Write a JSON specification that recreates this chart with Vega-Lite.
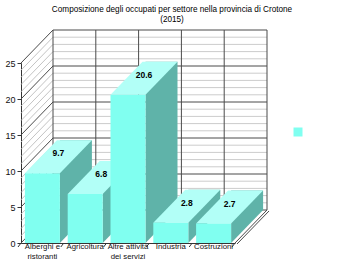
{
  "$schema": "https://vega.github.io/schema/vega-lite/v6.json",
  "autosize": "none",
  "width": 214,
  "height": 180,
  "padding": {"left": 21, "top": 63, "right": 106, "bottom": 26},
  "background": "white",
  "config": {"view": {"stroke": null}, "font": "Liberation Sans"},
  "title": {
    "text": ["Composizione degli occupati per settore nella provincia di Crotone", "(2015)"],
    "fontSize": 8.2,
    "fontWeight": "normal",
    "font": "Liberation Sans",
    "color": "#000000",
    "anchor": "middle",
    "dx": 44,
    "offset": 5,
    "lineHeight": 10
  },
  "datasets": {
    "settori": [
      {"settore": "Alberghi e ristoranti", "valore": 9.7},
      {"settore": "Agricoltura", "valore": 6.8},
      {"settore": "Altre attività dei servizi", "valore": 20.6},
      {"settore": "Industria", "valore": 2.8},
      {"settore": "Costruzioni", "valore": 2.7}
    ],
    "maggiori": [{"v": 0}, {"v": 5}, {"v": 10}, {"v": 15}, {"v": 20}, {"v": 25}],
    "minori": [
      {"v": 1}, {"v": 2}, {"v": 3}, {"v": 4},
      {"v": 6}, {"v": 7}, {"v": 8}, {"v": 9},
      {"v": 11}, {"v": 12}, {"v": 13}, {"v": 14},
      {"v": 16}, {"v": 17}, {"v": 18}, {"v": 19},
      {"v": 21}, {"v": 22}, {"v": 23}, {"v": 24}
    ]
  },
  "layer": [
    {
      "data": {"name": "minori"},
      "mark": {"type": "rule", "color": "#cccccc", "strokeWidth": 1, "yOffset": -33},
      "encoding": {
        "x": {"value": 32}, "x2": {"value": 246},
        "y": {
          "field": "v", "type": "quantitative", "title": null,
          "scale": {"domain": [0, 25], "nice": false},
          "axis": {"values": [0, 5, 10, 15, 20, 25], "tickCount": 6, "labelOverlap": false, "labelBound": false, "labelFlush": false, "grid": false, "tickSize": 4, "tickColor": "#333333", "domainColor": "#333333", "labelFontSize": 9, "labelColor": "#111111", "labelPadding": 2}
        }
      }
    },
    {
      "data": {"name": "minori"},
      "mark": {"type": "rule", "color": "#c4c4c4", "strokeWidth": 1, "y2Offset": -33},
      "encoding": {
        "x": {"value": 0}, "x2": {"value": 32},
        "y": {"field": "v", "type": "quantitative"},
        "y2": {"field": "v"}
      }
    },
    {
      "data": {"name": "maggiori"},
      "mark": {"type": "rule", "color": "#4a4a4a", "strokeWidth": 1, "yOffset": -33},
      "encoding": {
        "x": {"value": 32}, "x2": {"value": 246},
        "y": {"field": "v", "type": "quantitative"}
      }
    },
    {
      "data": {"name": "maggiori"},
      "mark": {"type": "rule", "color": "#4a4a4a", "strokeWidth": 1, "y2Offset": -33},
      "encoding": {
        "x": {"value": 0}, "x2": {"value": 32},
        "y": {"field": "v", "type": "quantitative"},
        "y2": {"field": "v"}
      }
    },
    {
      "data": {"name": "settori"},
      "mark": {"type": "rule", "color": "#4a4a4a", "strokeWidth": 1, "xOffset": 10.6, "yOffset": -33, "y2Offset": -33},
      "encoding": {
        "x": {"field": "settore", "type": "nominal", "sort": null},
        "y": {"datum": 25},
        "y2": {"datum": 0}
      }
    },
    {
      "data": {"values": [{}]},
      "mark": {"type": "rule", "color": "#4a4a4a", "strokeWidth": 1, "yOffset": -33, "y2Offset": -33},
      "encoding": {
        "x": {"value": 246},
        "y": {"datum": 25},
        "y2": {"datum": 0}
      }
    },
    {
      "data": {"values": [{}]},
      "mark": {"type": "rule", "color": "#4a4a4a", "strokeWidth": 1, "y2Offset": -33},
      "encoding": {
        "x": {"value": 214}, "x2": {"value": 246},
        "y": {"datum": 0},
        "y2": {"datum": 0}
      }
    },
    {
      "data": {"values": [{}]},
      "mark": {"type": "rule", "color": "#4a4a4a", "strokeWidth": 1, "yOffset": 1, "y2Offset": -32},
      "encoding": {
        "x": {"value": 216}, "x2": {"value": 248},
        "y": {"datum": 0},
        "y2": {"datum": 0}
      }
    },
    {
      "data": {"name": "settori"},
      "mark": {"type": "bar", "width": 32, "xOffset": 33.5, "yOffset": -33, "y2Offset": -33, "color": "#5fb3a9"},
      "encoding": {
        "x": {"field": "settore", "type": "nominal", "sort": null},
        "y": {"field": "valore", "type": "quantitative"},
        "y2": {"datum": 0}
      }
    },
    {
      "data": {"name": "settori"},
      "mark": {"type": "point", "shape": "M17.5,-34 L17.5,0 L49.5,-33 L49.5,-34 Z", "size": 4, "filled": true, "color": "#5fb3a9", "opacity": 1, "strokeWidth": 0},
      "encoding": {
        "x": {"field": "settore", "type": "nominal", "sort": null},
        "y": {"datum": 0}
      }
    },
    {
      "data": {"name": "settori"},
      "mark": {"type": "point", "shape": "M-17.5,0 L17.5,0 L49.5,-33 L14.5,-33 Z", "size": 4, "filled": true, "color": "#b2fff7", "opacity": 1, "strokeWidth": 0},
      "encoding": {
        "x": {"field": "settore", "type": "nominal", "sort": null},
        "y": {"field": "valore", "type": "quantitative"}
      }
    },
    {
      "data": {"name": "settori"},
      "mark": {"type": "bar", "width": 35},
      "encoding": {
        "x": {
          "field": "settore", "type": "nominal", "sort": null, "title": null,
          "scale": {"paddingInner": 0, "paddingOuter": 0},
          "axis": {
            "labelAngle": 0, "ticks": false, "bandPosition": 0.5, "labelAlign": "center", "labelOverlap": false, "labelBound": false,
            "domainColor": "#333333", "labelColor": "#111111",
            "labelFontSize": 7.8, "labelPadding": 3, "labelLineHeight": 10,
            "labelExpr": "datum.label == 'Alberghi e ristoranti' ? ['Alberghi e', 'ristoranti'] : datum.label == 'Altre attività dei servizi' ? ['Altre attività', 'dei servizi'] : datum.label"
          }
        },
        "y": {"field": "valore", "type": "quantitative"},
        "y2": {"datum": 0},
        "color": {
          "datum": "serie",
          "scale": {"range": ["#80fff0"]},
          "legend": {"orient": "none", "legendX": 272, "legendY": 64, "labelExpr": "''", "symbolType": "square", "symbolSize": 81, "symbolStrokeWidth": 0, "title": null}
        }
      }
    },
    {
      "data": {"name": "settori"},
      "mark": {"type": "point", "shape": "M0,0 L-3,4", "size": 4, "filled": false, "color": "#333333", "strokeWidth": 1, "xOffset": -21.4, "opacity": 1},
      "encoding": {
        "x": {"field": "settore", "type": "nominal", "sort": null},
        "y": {"datum": 0}
      }
    },
    {
      "data": {"name": "settori"},
      "transform": [{"filter": "datum.settore == 'Costruzioni'"}],
      "mark": {"type": "point", "shape": "M0,0 L-3,4", "size": 4, "filled": false, "color": "#333333", "strokeWidth": 1, "xOffset": 21.4, "opacity": 1},
      "encoding": {
        "x": {"field": "settore", "type": "nominal", "sort": null},
        "y": {"datum": 0}
      }
    },
    {
      "data": {"name": "settori"},
      "mark": {"type": "text", "fontWeight": "bold", "fontSize": 8.5, "color": "#000000", "dx": 16, "dy": -20, "baseline": "middle", "align": "center"},
      "encoding": {
        "x": {"field": "settore", "type": "nominal", "sort": null},
        "y": {"field": "valore", "type": "quantitative"},
        "text": {"field": "valore", "type": "quantitative", "format": ".1f"}
      }
    }
  ]
}
